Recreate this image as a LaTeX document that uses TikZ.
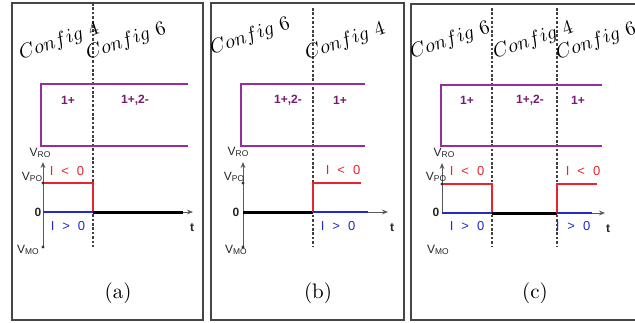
\documentclass[tikz,border=0pt]{standalone}
\usepackage{fontspec}
\setsansfont{Liberation Sans}
\usetikzlibrary{arrows.meta}
\definecolor{pline}{RGB}{150,45,160}
\definecolor{ptext}{RGB}{120,25,115}
\definecolor{ired}{RGB}{232,35,45}
\definecolor{iblue}{RGB}{35,40,205}
\definecolor{framec}{RGB}{70,70,70}
\newcommand{\vlab}[1]{V\raisebox{-0.7pt}{\fontsize{4.2}{5}\selectfont #1}}
\newcommand{\ilt}{I\hspace{2.2pt} <\hspace{2.2pt} 0}
\newcommand{\igt}{I\hspace{2.2pt} >\hspace{2.2pt} 0}
\begin{document}
\begin{tikzpicture}[x=0.5pt,y=-0.5pt,
  panel/.style={draw=framec,line width=0.6pt},
  sepline/.style={draw=black!75,line width=0.8pt,dash pattern=on 1.3pt off 0.9pt},
  cfg/.style={rotate=19,anchor=base west,inner sep=0pt,font=\fontsize{10}{12}\selectfont},
  state/.style={font=\sffamily\bfseries\fontsize{6}{7}\selectfont,text=ptext,inner sep=0pt},
  boxline/.style={draw=pline,line width=1pt},
  axisline/.style={draw=black!65,line width=0.5pt,-{Stealth[length=3pt,width=2.4pt]}},
  vl/.style={font=\sffamily\fontsize{6}{7}\selectfont,text=black!85,inner sep=0pt},
  il/.style={font=\sffamily\fontsize{6.5}{7}\selectfont,inner sep=0pt},
  redl/.style={draw=ired,line width=0.75pt},
  bluel/.style={draw=iblue,line width=0.75pt},
  zerol/.style={draw=black,line width=1.5pt},
  dotfill/.style={fill=black!80},
  captext/.style={font=\fontsize{10.5}{12}\selectfont,inner sep=0pt}]
\clip (0,0) rectangle (635,322);
\fill[white] (0,0) rectangle (635,322);

% ---------------- panel (a) ----------------
\draw[panel] (12,3) rectangle (203,320);
\coordinate (a-s1) at (93,3); \coordinate (a-s2) at (93,247);
\draw[sepline] (a-s1) -- (a-s2);
\node[cfg] (a-c1) at (21,60) {$Config\ 4$};
\node[cfg] (a-c2) at (88,60) {$Config\ 6$};
\coordinate (a-b1) at (188,84); \coordinate (a-b2) at (41,84);
\coordinate (a-b3) at (41,146); \coordinate (a-b4) at (188,146);
\draw[boxline] (a-b1) -- (a-b2) -- (a-b3) -- (a-b4);
\node[state] (a-st1) at (68,100) {1+};
\node[state] (a-st2) at (135,100) {1+,2-};
\coordinate (a-o) at (43,212); \coordinate (a-top) at (43,162);
\coordinate (a-bot) at (43,247); \coordinate (a-vpo) at (43,183);
\coordinate (a-end) at (193,212);
\coordinate (a-r1) at (93,183); \coordinate (a-r2) at (93,212);
\coordinate (a-z) at (183,212);
\draw[axisline] (a-bot) -- (a-top);
\draw[axisline] (a-o) -- (a-end);
\draw[redl] (a-vpo) -- (a-r1) -- (a-r2);
\draw[bluel] (a-o) -- (a-r2);
\draw[zerol] (a-r2) -- (a-z);
\fill[dotfill] (a-vpo) circle[radius=0.8pt];
\fill[dotfill] (a-bot) circle[radius=0.8pt];
\node[vl] (a-vro) at (40,153) {\vlab{RO}};
\node[vl] (a-vpol) at (32,177) {\vlab{PO}};
\node[vl] (a-0) at (38,212) {\bfseries 0};
\node[vl] (a-vmo) at (28,250) {\vlab{MO}};
\node[vl] (a-t) at (192,228) {\bfseries t};
\node[il,text=ired] (a-il) at (67,171) {\ilt};
\node[il,text=iblue] (a-ig) at (68,226) {\igt};
\node[captext] (a-cap) at (118,293) {(a)};

% ---------------- panel (b) ----------------
\draw[panel] (211,3) rectangle (404,320);
\coordinate (b-s1) at (313,8); \coordinate (b-s2) at (313,247);
\draw[sepline] (b-s1) -- (b-s2);
\node[cfg] (b-c1) at (212,55) {$Config\ 6$};
\node[cfg] (b-c2) at (307,60) {$Config\ 4$};
\coordinate (b-b1) at (365,84); \coordinate (b-b2) at (241,84);
\coordinate (b-b3) at (241,146); \coordinate (b-b4) at (365,146);
\draw[boxline] (b-b1) -- (b-b2) -- (b-b3) -- (b-b4);
\node[state] (b-st1) at (288,100) {1+,2-};
\node[state] (b-st2) at (340,100) {1+};
\coordinate (b-o) at (243,212); \coordinate (b-top) at (243,162);
\coordinate (b-bot) at (243,247); \coordinate (b-vpo) at (243,183);
\coordinate (b-end) at (388,212);
\coordinate (b-r0) at (313,212); \coordinate (b-r1) at (313,183);
\coordinate (b-r2) at (361,183); \coordinate (b-bl) at (368,212);
\draw[axisline] (b-bot) -- (b-top);
\draw[axisline] (b-o) -- (b-end);
\draw[zerol] (b-o) -- (b-r0);
\draw[redl] (b-r0) -- (b-r1) -- (b-r2);
\draw[bluel] (b-r0) -- (b-bl);
\fill[dotfill] (b-vpo) circle[radius=0.8pt];
\fill[dotfill] (b-bot) circle[radius=0.8pt];
\node[vl] (b-vro) at (238,152) {\vlab{RO}};
\node[vl] (b-vpol) at (234,177) {\vlab{PO}};
\node[vl] (b-0) at (236,212) {\bfseries 0};
\node[vl] (b-vmo) at (236,250) {\vlab{MO}};
\node[vl] (b-t) at (392,228) {\bfseries t};
\node[il,text=ired] (b-il) at (343,170) {\ilt};
\node[il,text=iblue] (b-ig) at (338,226) {\igt};
\node[captext] (b-cap) at (318,293) {(b)};

% ---------------- panel (c) ----------------
\draw[panel] (411,4) rectangle (660,320);
\coordinate (c-s1) at (492,8); \coordinate (c-s2) at (492,247);
\coordinate (c-s3) at (557,8); \coordinate (c-s4) at (557,247);
\draw[sepline] (c-s1) -- (c-s2);
\draw[sepline] (c-s3) -- (c-s4);
\node[cfg] (c-c1) at (412,59) {$Config\ 6$};
\node[cfg] (c-c2) at (495,59) {$Config\ 4$};
\node[cfg] (c-c3) at (558,60) {$Config\ 6$};
\coordinate (c-b1) at (602,85); \coordinate (c-b2) at (441,85);
\coordinate (c-b3) at (441,146); \coordinate (c-b4) at (602,146);
\draw[boxline] (c-b1) -- (c-b2) -- (c-b3) -- (c-b4);
\node[state] (c-st1) at (467,100) {1+};
\node[state] (c-st2) at (530,100) {1+,2-};
\node[state] (c-st3) at (578,100) {1+};
\coordinate (c-o) at (442,213); \coordinate (c-top) at (442,163);
\coordinate (c-vpo) at (442,184); \coordinate (c-end) at (605,213);
\coordinate (c-r1) at (492,184); \coordinate (c-r2) at (492,213);
\coordinate (c-r3) at (557,213); \coordinate (c-r4) at (557,184);
\coordinate (c-r5) at (597,184); \coordinate (c-bl) at (592,213);
\draw[axisline] (c-o) -- (c-top);
\draw[axisline] (c-o) -- (c-end);
\draw[redl] (c-vpo) -- (c-r1) -- (c-r2);
\draw[bluel] (c-o) -- (c-r2);
\draw[zerol] (c-r2) -- (c-r3);
\draw[redl] (c-r3) -- (c-r4) -- (c-r5);
\draw[bluel] (c-r3) -- (c-bl);
\fill[dotfill] (c-vpo) circle[radius=0.8pt];
\node[vl] (c-vro) at (444,153) {\vlab{RO}};
\node[vl] (c-vpol) at (436,177) {\vlab{PO}};
\node[vl] (c-0) at (436,212) {\bfseries 0};
\node[vl] (c-vmo) at (438,250) {\vlab{MO}};
\node[vl] (c-t) at (608,229) {\bfseries t};
\node[il,text=ired] (c-il1) at (467,171) {\ilt};
\node[il,text=ired] (c-il2) at (583,171) {\ilt};
\node[il,text=iblue] (c-ig1) at (467,226) {\igt};
\node[il,text=iblue] (c-ig2) at (573,226) {\igt};
\node[captext] (c-cap) at (535,293) {(c)};
\end{tikzpicture}
\end{document}
